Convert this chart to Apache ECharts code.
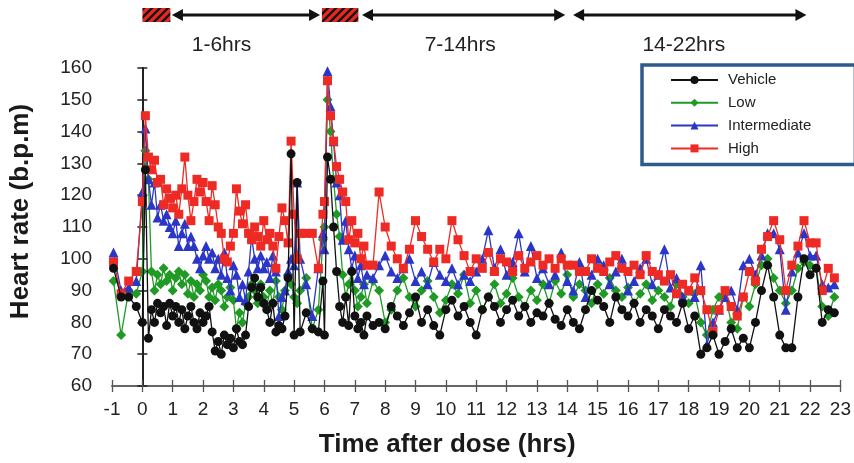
<!DOCTYPE html>
<html><head><meta charset="utf-8">
<script src="https://cdn.jsdelivr.net/npm/echarts@6/dist/echarts.min.js"></script>
<style>html,body{margin:0;padding:0;background:#fff}#c{width:854px;height:463px}</style>
</head><body><div id="c"></div>
<script>
// Time after dose (hrs)
const times = [-0.95,-0.7,-0.45,-0.2,
 0,0.1,0.2,0.3,0.4,0.5,0.6,0.7,0.8,0.9,
 1,1.1,1.2,1.3,1.4,1.5,1.6,1.7,1.8,1.9,
 2,2.1,2.2,2.3,2.4,2.5,2.6,2.7,2.8,2.9,
 3,3.1,3.2,3.3,3.4,3.5,3.6,3.7,3.8,3.9,
 4,4.1,4.2,4.3,4.4,4.5,4.6,4.7,4.8,4.9,
 5,5.1,5.2,
 5.4,5.6,5.8,5.95,
 6,6.1,6.2,6.3,6.4,6.5,6.6,6.7,6.8,6.9,
 7,7.1,7.2,7.3,7.4,
 7.6,7.8,8,8.2,8.4,8.6,8.8,9,9.2,9.4,
 9.6,9.8,10,10.2,10.4,10.6,10.8,11,11.2,11.4,
 11.6,11.8,12,12.2,12.4,12.6,12.8,13,13.2,13.4,
 13.6,13.8,14,14.2,14.4,14.6,14.8,15,15.2,15.4,
 15.6,15.8,16,16.2,16.4,16.6,16.8,17,17.2,17.4,
 17.6,17.8,18,18.2,18.4,18.6,18.8,19,19.2,19.4,
 19.6,19.8,20,20.2,20.4,20.6,20.8,21,21.2,21.4,
 21.6,21.8,22,22.2,22.4,22.6,22.8];

const high = [99,89,93,96,
 118,145,132,128,131,124,125,117,122,119,
 116,120,114,122,132,120,112,118,125,121,
 124,118,112,123,117,110,108,100,99,104,
 108,122,115,111,117,108,106,110,107,104,
 112,106,108,104,97,107,116,112,105,137,
 114,100,108,
 108,108,97,114,
 118,156,145,137,129,125,121,118,106,112,
 105,108,100,104,98,
 98,121,110,104,100,97,103,112,107,103,
 99,103,100,112,106,101,96,100,97,102,
 96,100,99,96,101,97,99,101,98,100,
 97,100,98,98,96,96,100,97,96,99,
 101,97,96,98,95,101,96,95,93,95,
 89,92,90,94,90,84,77,84,90,85,
 82,88,96,93,103,107,112,106,90,98,
 104,112,105,105,90,97,94];

const intermediate = [102,90,91,93,
 121,141,125,117,124,113,117,112,114,110,
 108,112,104,108,111,104,107,104,100,97,
 101,104,100,102,97,100,95,102,94,90,
 98,95,88,92,87,96,107,100,97,101,
 97,99,94,101,96,82,88,90,96,100,
 98,124,100,
 92,82,97,108,
 103,159,148,137,124,120,106,112,103,97,
 101,94,98,92,95,
 94,98,101,96,94,97,100,93,96,92,
 99,95,93,97,92,95,93,96,100,109,
 97,103,95,99,108,96,104,94,97,92,
 95,102,93,90,99,88,95,100,98,92,
 96,100,90,93,97,100,92,95,103,91,
 94,88,90,88,98,73,80,84,88,90,
 84,98,100,95,101,108,108,103,84,96,
 102,108,101,101,92,91,92];

const low = [93,76,90,89,
 96,134,125,96,90,95,92,97,93,95,
 90,94,96,92,95,89,93,88,92,90,
 95,93,88,91,87,92,90,85,88,91,
 87,78,83,80,86,88,92,90,86,92,
 88,85,90,86,93,88,84,90,95,92,
 88,86,90,
 94,78,84,106,
 110,150,140,125,114,107,95,88,92,96,
 90,85,88,92,86,
 93,90,80,84,90,94,88,85,90,93,
 88,83,87,92,89,95,86,90,84,88,
 92,86,89,94,88,85,90,87,92,86,
 93,89,95,88,92,90,86,92,89,94,
 90,88,91,86,89,92,87,90,88,85,
 92,88,86,89,80,76,84,88,89,80,
 78,88,85,92,98,100,94,90,86,90,
 97,99,98,97,85,82,88];

const vehicle = [97,88,88,85,
 80,128,75,84,80,86,83,85,79,86,
 82,85,80,84,78,82,85,80,78,83,
 80,82,85,77,71,74,70,76,73,75,
 72,78,74,73,76,85,91,94,88,91,
 86,84,80,86,77,79,78,82,94,133,
 76,124,77,
 83,78,77,93,
 76,132,125,110,96,85,80,88,79,96,
 82,78,80,76,82,
 79,80,78,85,82,79,83,88,80,84,
 79,76,84,87,82,85,80,76,84,88,
 85,80,84,87,82,85,80,83,82,86,
 81,79,84,80,78,84,90,87,85,80,
 88,84,82,86,80,84,82,78,84,82,
 80,86,78,82,70,72,76,70,74,78,
 72,75,72,80,90,98,88,76,72,72,
 88,100,95,97,80,84,83];

const seriesNames = ['Vehicle','Low','Intermediate','High'];
const yTicks = [60,70,80,90,100,110,120,130,140,150,160];
const xTicks = [-1,0,1,2,3,4,5,6,7,8,9,10,11,12,13,14,15,16,17,18,19,20,21,22,23];

// Dosing periods (hatched) and analysis windows (arrows) in hours
const dosingSpans = [[0, 0.92], [5.9, 7.1]];
const windowSpans = [[0.97, 5.84, 2.6], [7.22, 13.9, 10.45], [14.16, 21.83, 17.8]];
const windowLabels = ['1-6hrs', '7-14hrs', '14-22hrs'];

const SANS = "'Liberation Sans',Arial,Helvetica,sans-serif";

function pair(arr){ return times.map((t,i)=>[t, arr[i]]); }

function makeHatch(){
  const c = document.createElement('canvas'); c.width = 8; c.height = 8;
  const g = c.getContext('2d');
  g.fillStyle = '#e8281e'; g.fillRect(0,0,8,8);
  g.strokeStyle = '#161616'; g.lineWidth = 2.4;
  g.beginPath();
  g.moveTo(0,8); g.lineTo(8,0);
  g.moveTo(-4,4); g.lineTo(4,-4);
  g.moveTo(4,12); g.lineTo(12,4);
  g.stroke();
  return c;
}
const hatch = makeHatch();

const chart = echarts.init(document.getElementById('c'), null, {renderer:'canvas'});

function lineSeries(name, arr, color, symbol, size, z){
  return {
    name, type:'line', data: pair(arr), xAxisIndex:0, yAxisIndex:0,
    symbol, symbolSize:size, showSymbol:true, z,
    lineStyle:{color, width:1.3}, itemStyle:{color},
    emphasis:{disabled:true}, animation:false
  };
}

const option = {
  animation:false,
  grid:[
    {left:112, right:12, top:68, bottom:76},
    {left:112, right:12, top:5, height:20}
  ],
  xAxis:[
    {gridIndex:0, type:'value', min:-1, max:23, interval:1, position:'bottom',
     axisLine:{show:true, onZero:false, lineStyle:{color:'#666', width:2}},
     axisTick:{show:true, inside:false, length:6, lineStyle:{color:'#555', width:1.3}},
     axisLabel:{margin:14, fontFamily:SANS, fontSize:19, color:'#222',
       formatter:v=> xTicks.includes(v) ? String(v) : ''},
     splitLine:{show:false},
     name:'Time after dose (hrs)', nameLocation:'middle', nameGap:46,
     nameTextStyle:{fontFamily:SANS, fontWeight:'bold', fontSize:26, color:'#1a1a1a', padding:[0,58,0,0]}},
    {gridIndex:1, type:'value', min:-1, max:23, show:false},
    {gridIndex:0, type:'value', min:-1, max:23, interval:1, position:'bottom',
     axisLine:{show:false, onZero:false},
     axisTick:{show:true, inside:true, length:6, lineStyle:{color:'#555', width:1.3}},
     axisLabel:{show:false}, splitLine:{show:false}}
  ],
  yAxis:[
    {gridIndex:0, type:'value', min:60, max:160, interval:10, position:'left',
     axisLine:{show:false, onZero:false}, axisTick:{show:false},
     axisLabel:{margin:20, fontFamily:SANS, fontSize:19, color:'#222',
       formatter:v=> yTicks.includes(v) ? String(v) : ''},
     splitLine:{show:false},
     name:'Heart rate (b.p.m)', nameLocation:'middle', nameGap:78,
     nameTextStyle:{fontFamily:SANS, fontWeight:'bold', fontSize:26, color:'#1a1a1a', padding:[0,0,0,31]}},
    {gridIndex:0, type:'value', min:60, max:160, interval:10, position:'left',
     axisLine:{show:true, onZero:true, onZeroAxisIndex:0, lineStyle:{color:'#222', width:2}},
     axisTick:{show:true, inside:false, length:5, lineStyle:{color:'#222', width:1.5}},
     axisLabel:{show:false}, splitLine:{show:false}},
    {gridIndex:0, type:'value', min:60, max:160, interval:10, position:'left',
     axisLine:{show:true, onZero:true, onZeroAxisIndex:0, lineStyle:{color:'#222', width:2}},
     axisTick:{show:true, inside:true, length:5, lineStyle:{color:'#222', width:1.5}},
     axisLabel:{show:false}, splitLine:{show:false}},
    {gridIndex:1, type:'value', min:0, max:1, show:false}
  ],
  legend:{
    data:seriesNames, orient:'vertical', left:642, top:65,
    padding:[7, 44, 8, 28], itemGap:6.8, itemWidth:47, itemHeight:10,
    borderColor:'#2e5b8e', borderWidth:3.5, backgroundColor:'#fff',
    textStyle:{fontFamily:SANS, fontSize:15, color:'#222', lineHeight:16, padding:[0,0,0,5]},
    selectedMode:false
  },
  series:[
    lineSeries('Low', low, '#1f9a25', 'diamond', 10, 2),
    lineSeries('Intermediate', intermediate, '#2b36c6', 'triangle', 10, 3),
    lineSeries('High', high, '#ee2a24', 'rect', 9, 4),
    lineSeries('Vehicle', vehicle, '#111111', 'circle', 9, 5),
    {
      type:'custom', xAxisIndex:1, yAxisIndex:3, silent:true, animation:false,
      data: dosingSpans,
      renderItem:(params, api)=>{
        const p0 = api.coord([api.value(0), 0.5]);
        const p1 = api.coord([api.value(1), 0.5]);
        return {type:'rect', shape:{x:p0[0], y:p0[1]-7, width:p1[0]-p0[0], height:14},
          style:{fill:{image:hatch, repeat:'repeat'}}};
      }
    },
    {
      type:'custom', xAxisIndex:1, yAxisIndex:3, silent:true, animation:false,
      data: windowSpans,
      renderItem:(params, api)=>{
        const p0 = api.coord([api.value(0), 0.5]);
        const p1 = api.coord([api.value(1), 0.5]);
        const pl = api.coord([api.value(2), 0.5]);
        const y = p0[1], hl = 11, hw = 6;
        return {type:'group', children:[
          {type:'line', shape:{x1:p0[0]+hl-2, y1:y, x2:p1[0]-hl+2, y2:y}, style:{stroke:'#111', lineWidth:3}},
          {type:'polygon', shape:{points:[[p0[0],y],[p0[0]+hl,y-hw],[p0[0]+hl,y+hw]]}, style:{fill:'#111'}},
          {type:'polygon', shape:{points:[[p1[0],y],[p1[0]-hl,y-hw],[p1[0]-hl,y+hw]]}, style:{fill:'#111'}},
          {type:'text', x:pl[0], y:y+30, style:{text:windowLabels[params.dataIndex], fill:'#222',
            font:"21px "+SANS, textAlign:'center', textVerticalAlign:'middle'}}
        ]};
      }
    }
  ]
};
chart.setOption(option);
</script></body></html>
